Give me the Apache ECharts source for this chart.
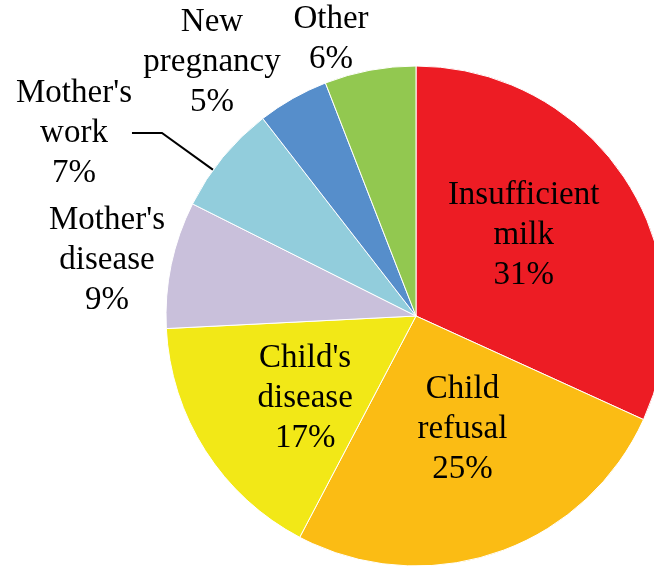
<!DOCTYPE html>
<html>
<head>
<meta charset="utf-8">
<script src="https://cdn.jsdelivr.net/npm/echarts@6/dist/echarts.min.js"></script>
<style>
  html, body { margin: 0; padding: 0; background: #fff; }
  #chart { width: 654px; height: 569px; }
</style>
</head>
<body>
<div id="chart"></div>
<script>
// reasons for stopping breastfeeding, clockwise from 12 o'clock
const categories = [
  "Insufficient\nmilk",
  "Child\nrefusal",
  "Child's\ndisease",
  "Mother's\ndisease",
  "Mother's\nwork",
  "New\npregnancy",
  "Other"
];
const shares = [31.8, 25.9, 16.5, 8.2, 7.1, 4.6, 5.9];
// percentages printed on the chart
const printedPct = [31, 25, 17, 9, 7, 5, 6];
const sliceColors = ["#ed1c24", "#fbbc14", "#f2e817", "#c9c0db", "#92cddc", "#568ecb", "#92c850"];

// small slices get their labels outside the pie
const outsideLabels = {
  3: { x: 107, y: 260 },
  4: { x: 74, y: 133, line: [[221, 157], [158, 104], [141, 104]] },
  5: { x: 212, y: 62 },
  6: { x: 331, y: 39 }
};
// nudges for the labels drawn inside the slices
const insideNudge = {
  0: { dx: 0, dy: -11 },
  1: { dx: 5, dy: -8 },
  2: { dx: -3, dy: 13 }
};

const chart = echarts.init(document.getElementById("chart"), null, { renderer: "canvas" });

const option = {
  animation: false,
  series: [
    {
      type: "pie",
      center: [416, 316],
      radius: 250,
      startAngle: 90,
      clockwise: true,
      avoidLabelOverlap: false,
      itemStyle: { borderColor: "#fff", borderWidth: 1 },
      label: {
        position: "inside",
        formatter: (p) => p.name + "\n" + printedPct[p.dataIndex] + "%",
        fontFamily: "Liberation Serif, Times New Roman, serif",
        fontSize: 33,
        lineHeight: 40,
        color: "#000",
        align: "center"
      },
      labelLine: { show: false },
      labelLayout: (params) => {
        const o = outsideLabels[params.dataIndex];
        if (!o) return insideNudge[params.dataIndex] || {};
        const out = { x: o.x, y: o.y, align: "center", verticalAlign: "middle" };
        if (o.line) out.labelLinePoints = o.line;
        return out;
      },
      data: categories.map((name, i) => ({
        name: name,
        value: shares[i],
        itemStyle: { color: sliceColors[i] },
        labelLine: outsideLabels[i] && outsideLabels[i].line
          ? { show: true, lineStyle: { color: "#000", width: 2 } }
          : { show: false }
      }))
    }
  ]
};

chart.setOption(option);
</script>
</body>
</html>
